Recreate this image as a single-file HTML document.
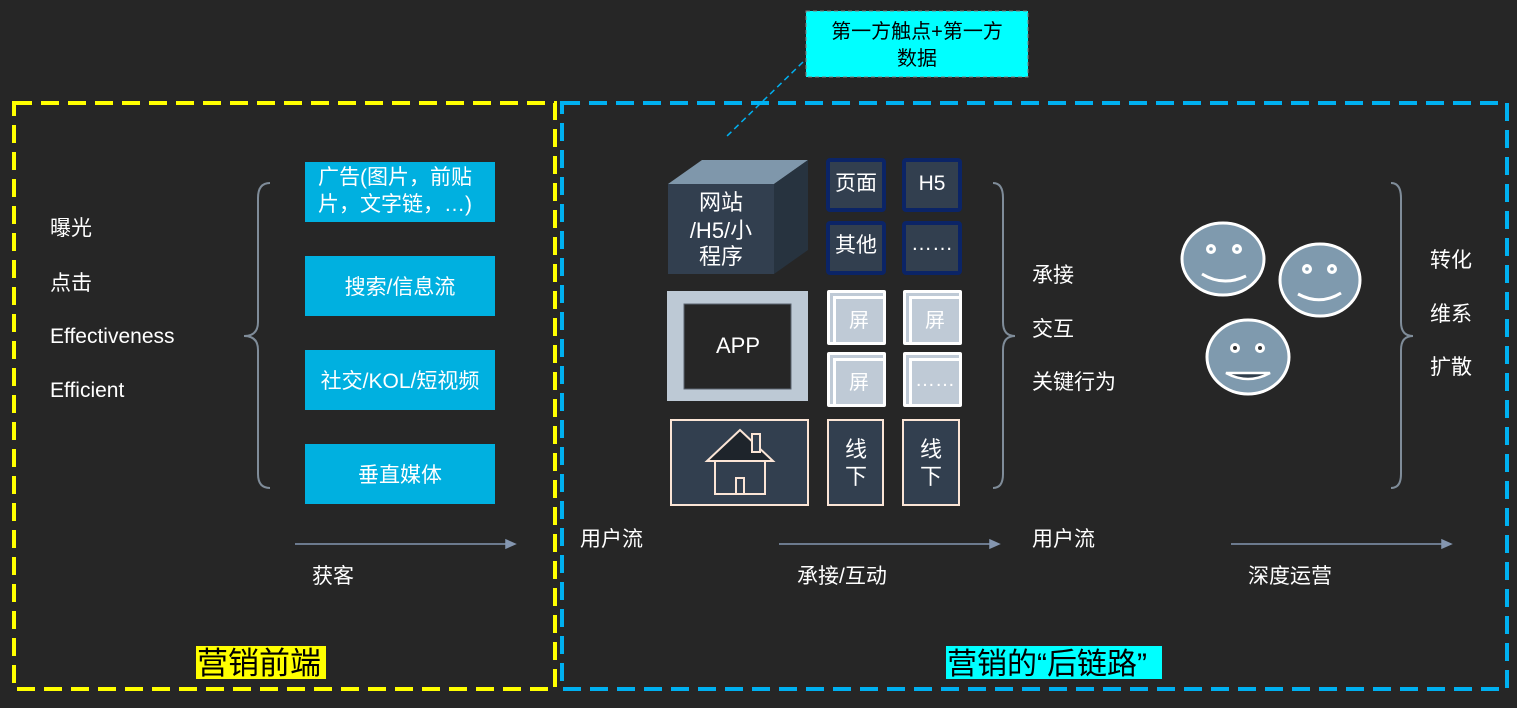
<!DOCTYPE html>
<html><head><meta charset="utf-8"><style>
html,body{margin:0;padding:0;background:#262626;}
svg{display:block}
text{font-family:"Liberation Sans","Noto Sans CJK SC",sans-serif;fill:#fff;}
</style></head><body>
<svg width="1517" height="708" viewBox="0 0 1517 708" xmlns="http://www.w3.org/2000/svg">
<rect width="1517" height="708" fill="#262626"/>
<rect x="14" y="103" width="541" height="586" fill="none" stroke="#ffff00" stroke-width="4" stroke-dasharray="18,9"/>
<rect x="562" y="103" width="945" height="586" fill="none" stroke="#00b0f0" stroke-width="4" stroke-dasharray="18,9"/>
<line x1="803" y1="62" x2="725" y2="138" stroke="#00b0f0" stroke-width="1.5" stroke-dasharray="6,4"/>
<rect x="806" y="11" width="222" height="66" fill="#00ffff" stroke="#7f7f7f" stroke-dasharray="4,3"/>
<text x="917" y="38" font-size="20" style="fill:#000" text-anchor="middle">第一方触点+第一方</text>
<text x="917" y="65" font-size="20" style="fill:#000" text-anchor="middle">数据</text>
<g font-size="21">
<text x="50" y="235">曝光</text>
<text x="50" y="290">点击</text>
<text x="50" y="343">Effectiveness</text>
<text x="50" y="397">Efficient</text>
</g>
<path d="M270 183 Q258 183 258 198 L258 322 Q258 336 244 336 Q258 336 258 350 L258 474 Q258 488 270 488" fill="none" stroke="#7f8c99" stroke-width="2"/>
<g fill="#00b0e0">
<rect x="305" y="162" width="190" height="60"/>
<rect x="305" y="256" width="190" height="60"/>
<rect x="305" y="350" width="190" height="60"/>
<rect x="305" y="444" width="190" height="60"/>
</g>
<g font-size="21">
<text x="318" y="184">广告(图片，前贴</text>
<text x="318" y="211">片，文字链，…)</text>
<text x="400" y="294" text-anchor="middle">搜索/信息流</text>
<text x="400" y="388" text-anchor="middle">社交/KOL/短视频</text>
<text x="400" y="482" text-anchor="middle">垂直媒体</text>
</g>
<g stroke="#8496b0" stroke-width="1.5" fill="#8496b0">
<line x1="295" y1="544" x2="508" y2="544"/><path d="M515 544 L506 540 L506 548Z"/>
<line x1="779" y1="544" x2="992" y2="544"/><path d="M999 544 L990 540 L990 548Z"/>
<line x1="1231" y1="544" x2="1444" y2="544"/><path d="M1451 544 L1442 540 L1442 548Z"/>
</g>
<g font-size="21">
<text x="312" y="583">获客</text>
<text x="580" y="546">用户流</text>
<text x="797" y="583">承接/互动</text>
<text x="1032" y="546">用户流</text>
<text x="1248" y="583">深度运营</text>
</g>
<polygon points="668,184 702,160 808,160 774,184" fill="#7f97ab"/>
<polygon points="774,184 808,160 808,250 774,274" fill="#27333f"/>
<rect x="668" y="184" width="106" height="90" fill="#323f4f"/>
<g font-size="22" text-anchor="middle">
<text x="721" y="210">网站</text>
<text x="721" y="238">/H5/小</text>
<text x="721" y="264">程序</text>
</g>
<g fill="#323f4f" stroke="#0b2466" stroke-width="4">
<rect x="828" y="160" width="56" height="50" rx="2"/>
<rect x="904" y="160" width="56" height="50" rx="2"/>
<rect x="828" y="223" width="56" height="50" rx="2"/>
<rect x="904" y="223" width="56" height="50" rx="2"/>
</g>
<g font-size="21" text-anchor="middle">
<text x="856" y="190">页面</text>
<text x="932" y="190">H5</text>
<text x="856" y="252">其他</text>
<text x="932" y="250">……</text>
</g>
<rect x="667" y="291" width="141" height="110" fill="#bdc9d5"/>
<rect x="684" y="304" width="107" height="85" fill="#262626" stroke="#5a6470"/>
<text x="738" y="353" font-size="22" text-anchor="middle">APP</text>
<g>
<rect x="827" y="290" width="59" height="55" fill="#fff" rx="2"/>
<rect x="903" y="290" width="59" height="55" fill="#fff" rx="2"/>
<rect x="827" y="352" width="59" height="55" fill="#fff" rx="2"/>
<rect x="903" y="352" width="59" height="55" fill="#fff" rx="2"/>
<g fill="#bfcad6">
<rect x="830" y="293" width="53" height="3"/><rect x="830" y="293" width="3" height="49"/><rect x="836" y="299" width="47" height="43"/>
<rect x="906" y="293" width="53" height="3"/><rect x="906" y="293" width="3" height="49"/><rect x="912" y="299" width="47" height="43"/>
<rect x="830" y="355" width="53" height="3"/><rect x="830" y="355" width="3" height="49"/><rect x="836" y="361" width="47" height="43"/>
<rect x="906" y="355" width="53" height="3"/><rect x="906" y="355" width="3" height="49"/><rect x="912" y="361" width="47" height="43"/>
</g>
<g font-size="20" text-anchor="middle">
<text x="859" y="327">屏</text><text x="935" y="327">屏</text><text x="859" y="389">屏</text><text x="935" y="386">……</text>
</g>
</g>
<rect x="671" y="420" width="137" height="85" fill="#323f4f" stroke="#fbe5d6" stroke-width="2"/>
<polygon points="740,430 707,461 773,461" fill="#1e242b" stroke="#fbe5d6" stroke-width="2"/>
<rect x="752" y="434" width="8" height="18" fill="#323f4f" stroke="#fbe5d6" stroke-width="2"/>
<rect x="715" y="461" width="50" height="33" fill="#323f4f" stroke="#fbe5d6" stroke-width="2"/>
<rect x="736" y="478" width="8" height="16" fill="#323f4f" stroke="#fbe5d6" stroke-width="2"/>
<rect x="828" y="420" width="55" height="85" fill="#323f4f" stroke="#fbe5d6" stroke-width="2"/>
<rect x="903" y="420" width="56" height="85" fill="#323f4f" stroke="#fbe5d6" stroke-width="2"/>
<g font-size="22" text-anchor="middle">
<text x="856" y="457">线</text><text x="856" y="484">下</text>
<text x="931" y="457">线</text><text x="931" y="484">下</text>
</g>
<path d="M993 183 Q1003 183 1003 198 L1003 322 Q1003 336 1015 336 Q1003 336 1003 350 L1003 474 Q1003 488 993 488" fill="none" stroke="#7f8c99" stroke-width="2"/>
<g font-size="21">
<text x="1032" y="282">承接</text>
<text x="1032" y="336">交互</text>
<text x="1032" y="389">关键行为</text>
</g>
<g stroke="#fff" stroke-width="3" fill="#7f9aae">
<ellipse cx="1223" cy="259" rx="41" ry="36"/>
<ellipse cx="1320" cy="280" rx="40" ry="36"/>
<ellipse cx="1248" cy="357" rx="41" ry="37"/>
</g>
<g fill="#fff">
<circle cx="1211" cy="249" r="5"/><circle cx="1237" cy="249" r="5"/>
<circle cx="1307" cy="269" r="5"/><circle cx="1332" cy="269" r="5"/>
<circle cx="1235" cy="348" r="5"/><circle cx="1260" cy="348" r="5"/>
</g>
<g fill="#7f9aae"><circle cx="1211" cy="249" r="1.8"/><circle cx="1237" cy="249" r="1.8"/><circle cx="1307" cy="269" r="1.8"/><circle cx="1332" cy="269" r="1.8"/></g>
<g fill="#333"><circle cx="1235" cy="348" r="2"/><circle cx="1260" cy="348" r="2"/></g>
<g fill="none" stroke="#fff" stroke-width="3">
<path d="M1202 274 Q1223 287 1246 276"/>
<path d="M1298 294 Q1320 306 1341 293"/>
</g>
<path d="M1226 373 Q1248 385 1270 373 Z" fill="#2f3d4b" stroke="#fff" stroke-width="2.5"/>
<path d="M1391 183 Q1401 183 1401 198 L1401 322 Q1401 336 1413 336 Q1401 336 1401 350 L1401 474 Q1401 488 1391 488" fill="none" stroke="#7f8c99" stroke-width="2"/>
<g font-size="21">
<text x="1430" y="267">转化</text>
<text x="1430" y="321">维系</text>
<text x="1430" y="374">扩散</text>
</g>
<rect x="196" y="646" width="130" height="33" fill="#ffff00"/>
<text x="197" y="674" font-size="31" style="fill:#000">营销前端</text>
<rect x="946" y="646" width="216" height="33" fill="#00ffff"/>
<text x="947" y="674" font-size="30" style="fill:#000">营销的“后链路”</text>
</svg>
</body></html>
